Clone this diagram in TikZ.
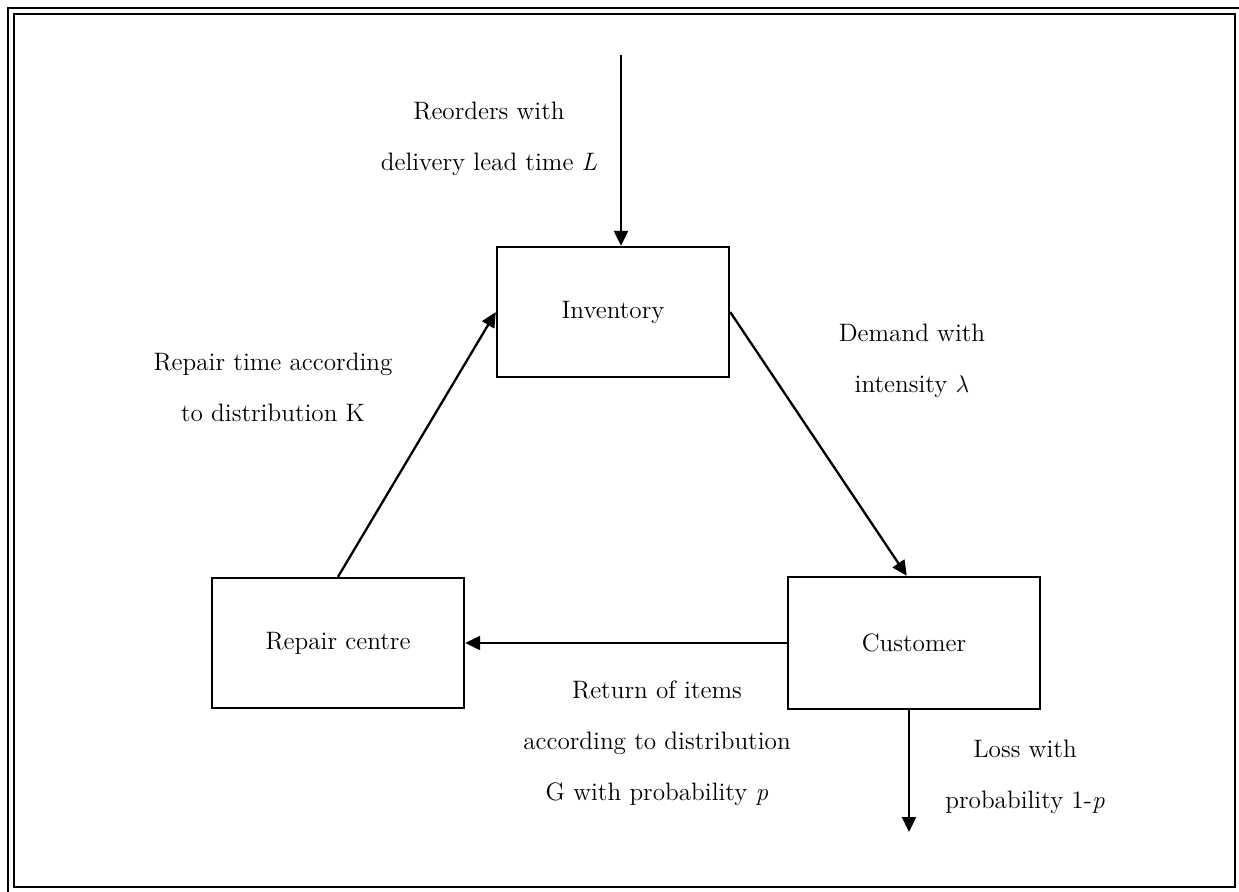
\documentclass[tikz,border=0pt]{standalone}
\usetikzlibrary{arrows.meta,calc}
\begin{document}
\begin{tikzpicture}[x=0.5pt,y=-0.5pt,
  box/.style={draw,line width=1.2pt,minimum width=#1,minimum height=65pt,inner sep=0pt,font=\fontsize{12.6}{25}\selectfont},
  lbl/.style={align=center,font=\fontsize{12.6}{25.5}\selectfont,inner sep=0pt},
  arr/.style={line width=1.15pt,-{Triangle[length=7.5pt,width=7pt]}}]
\useasboundingbox (0,0) rectangle (1239,891);
% frame
\draw[line width=1.2pt] (8,1300) -- (8,8) -- (1300,8);
\draw[line width=1.2pt] (14,14) rectangle (1235,887);
% boxes
\node[box=116pt] (inv) at (613,312) {Inventory};
\node[box=126pt] (rep) at (338,643) {Repair centre};
\node[box=126pt,minimum height=66pt] (cust) at (914,643) {Customer};
% free ends
\coordinate (src) at (621,55);
\coordinate (sink) at (909,832);
% connectors
\draw[arr] (src) -- ([xshift=4pt]inv.north);
\draw[arr] (inv.east) -- ([xshift=60pt]cust.north west);
\draw[arr] (cust.west) -- (rep.east);
\draw[arr] (rep.north) -- (inv.west);
\draw[arr] ([xshift=-2.5pt]cust.south) -- (sink);
% labels
\node[lbl] (l1) at (489,139) {Reorders with\\delivery lead time \textit{L}};
\node[lbl] (l2) at (912,361) {Demand with\\intensity $\lambda$};
\node[lbl] (l3) at (273,387) {Repair time according\\to distribution K};
\node[lbl] (l4) at (657,743) {Return of items\\according to distribution\\G with probability \textit{p}};
\node[lbl] (l5) at (1025,777) {Loss with\\probability 1-\textit{p}};
\end{tikzpicture}
\end{document}
